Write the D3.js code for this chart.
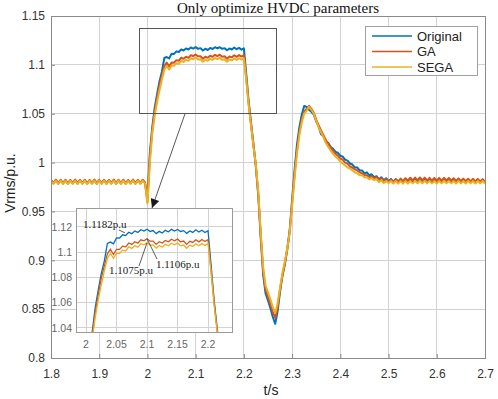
<!DOCTYPE html>
<html>
<head>
<meta charset="utf-8">
<script src="https://cdn.jsdelivr.net/npm/d3@7"></script>
<style>
  body { margin: 0; background: #fff; }
  svg { display: block; }
</style>
</head>
<body>
<div id="container"></div>
<script>
// ---- data ----
const xTicks = [1.8, 1.9, 2, 2.1, 2.2, 2.3, 2.4, 2.5, 2.6, 2.7];
const xTickLabels = ['1.8', '1.9', '2', '2.1', '2.2', '2.3', '2.4', '2.5', '2.6', '2.7'];
const yTicks = [0.8, 0.85, 0.9, 0.95, 1, 1.05, 1.1, 1.15];
const yTickLabels = ['0.8', '0.85', '0.9', '0.95', '1', '1.05', '1.1', '1.15'];
const insetXTicks = [2, 2.05, 2.1, 2.15, 2.2];
const insetXLabels = ['2', '2.05', '2.1', '2.15', '2.2'];
const insetYTicks = [1.04, 1.06, 1.08, 1.1, 1.12];
const insetYLabels = ['1.04', '1.06', '1.08', '1.1', '1.12'];
const seriesNames = ['Original', 'GA', 'SEGA'];
const tStart = 1.8, tStep = 0.005;

// Vrms (p.u.), sampled every 5 ms from 1.8 s to 2.7 s
const original = [
  0.9818,0.9787,0.9821,0.9785,0.9819,0.9786,0.9820,0.9784,0.9818,0.9787,
  0.9821,0.9785,0.9819,0.9786,0.9820,0.9784,0.9818,0.9787,0.9821,0.9785,
  0.9819,0.9786,0.9820,0.9784,0.9818,0.9787,0.9821,0.9785,0.9819,0.9786,
  0.9820,0.9784,0.9818,0.9787,0.9821,0.9785,0.9819,0.9786,0.9820,0.9792,
  0.965,1.010,1.036,1.056,1.070,1.083,1.093,1.107,1.108,1.1066,
  1.1113,1.1112,1.1138,1.1132,1.1158,1.1147,1.1168,1.1157,1.1178,1.1167,
  1.1182,1.1164,1.1171,1.1147,1.1165,1.1152,1.1173,1.1162,1.1181,1.1168,
  1.1180,1.1164,1.1171,1.1149,1.1168,1.1157,1.1178,1.1160,1.1174,1.1156,
  1.1170,1.090,1.062,1.040,1.018,0.995,0.965,0.922,0.885,0.866,
  0.859,0.851,0.842,0.835,0.848,0.868,0.884,0.896,0.912,0.931,
  0.962,0.992,1.018,1.036,1.049,1.058,1.057,1.054,1.052,1.049,
  1.042,1.037,1.029,1.027,1.021,1.020,1.016,1.014,1.011,1.010,
  1.007,1.006,1.003,1.002,0.999,0.998,0.995,0.995,0.992,0.992,
  0.989,0.990,0.987,0.988,0.985,0.986,0.983,0.985,0.982,0.984,0.981,
  0.9832,0.9803,0.9830,0.9801,0.9828,0.9800,0.9829,0.9801,0.9827,0.9799,
  0.9828,0.9800,0.9826,0.9798,0.9827,0.9799,0.9826,0.9798,0.9827,0.9799,
  0.9826,0.9798,0.9827,0.9799,0.9826,0.9798,0.9825,0.9797,0.9826,0.9798,
  0.9825,0.9797,0.9826,0.9798,0.9825,0.9797,0.9826,0.9798,0.9825,0.9797
];
const ga = [
  0.9822,0.9791,0.9825,0.9789,0.9823,0.9790,0.9824,0.9788,0.9822,0.9791,
  0.9825,0.9789,0.9823,0.9790,0.9824,0.9788,0.9822,0.9791,0.9825,0.9789,
  0.9823,0.9790,0.9824,0.9788,0.9822,0.9791,0.9825,0.9789,0.9823,0.9790,
  0.9824,0.9788,0.9822,0.9791,0.9825,0.9789,0.9823,0.9790,0.9824,0.9796,
  0.960,1.005,1.033,1.052,1.066,1.079,1.089,1.0987,1.1023,1.0982,
  1.1023,1.1022,1.1048,1.1042,1.1073,1.1062,1.1083,1.1072,1.1098,1.1090,
  1.1106,1.1087,1.1088,1.1062,1.1083,1.1072,1.1093,1.1082,1.1103,1.1090,
  1.1104,1.1082,1.1088,1.1062,1.1086,1.1077,1.1098,1.1082,1.1100,1.1085,
  1.1100,1.086,1.060,1.038,1.017,0.996,0.967,0.925,0.889,0.870,
  0.863,0.855,0.847,0.841,0.852,0.870,0.885,0.897,0.911,0.929,
  0.958,0.987,1.012,1.031,1.044,1.052,1.055,1.058,1.055,1.051,
  1.044,1.038,1.033,1.028,1.023,1.019,1.015,1.012,1.009,1.007,
  1.004,1.003,1.000,0.999,0.996,0.995,0.993,0.992,0.990,0.989,
  0.987,0.987,0.985,0.986,0.984,0.985,0.982,0.984,0.981,0.983,0.980,
  0.9826,0.9800,0.9830,0.9805,0.9836,0.9810,0.9840,0.9814,0.9845,0.9818,
  0.9846,0.9820,0.9847,0.9820,0.9846,0.9818,0.9844,0.9816,0.9842,0.9815,
  0.9843,0.9816,0.9844,0.9817,0.9842,0.9815,0.9840,0.9813,0.9838,0.9811,
  0.9836,0.9810,0.9835,0.9808,0.9833,0.9806,0.9832,0.9805,0.9830,0.9804
];
const sega = [
  0.9814,0.9783,0.9817,0.9781,0.9815,0.9782,0.9816,0.9780,0.9814,0.9783,
  0.9817,0.9781,0.9815,0.9782,0.9816,0.9780,0.9814,0.9783,0.9817,0.9781,
  0.9815,0.9782,0.9816,0.9780,0.9814,0.9783,0.9817,0.9781,0.9815,0.9782,
  0.9816,0.9780,0.9814,0.9783,0.9817,0.9781,0.9815,0.9782,0.9816,0.9788,
  0.958,1.000,1.030,1.048,1.062,1.074,1.085,1.0950,1.0990,1.0952,
  1.0992,1.0990,1.1016,1.1010,1.1042,1.1030,1.1052,1.1040,1.1067,1.1058,
  1.1075,1.1056,1.1057,1.1032,1.1052,1.1041,1.1062,1.1051,1.1071,1.1059,
  1.1072,1.1051,1.1057,1.1031,1.1055,1.1046,1.1066,1.1051,1.1068,1.1054,
  1.1068,1.084,1.058,1.037,1.016,0.997,0.969,0.928,0.893,0.874,
  0.867,0.860,0.852,0.846,0.856,0.872,0.887,0.899,0.912,0.929,
  0.956,0.984,1.009,1.028,1.041,1.050,1.053,1.057,1.054,1.050,
  1.043,1.036,1.031,1.026,1.020,1.016,1.012,1.009,1.006,1.004,
  1.001,0.999,0.997,0.995,0.994,0.992,0.990,0.989,0.987,0.987,
  0.985,0.985,0.983,0.984,0.982,0.983,0.980,0.982,0.979,0.981,0.979,
  0.9812,0.9786,0.9811,0.9785,0.9810,0.9784,0.9812,0.9786,0.9813,0.9787,
  0.9814,0.9788,0.9815,0.9789,0.9814,0.9788,0.9813,0.9787,0.9812,0.9786,
  0.9813,0.9787,0.9814,0.9788,0.9813,0.9787,0.9812,0.9786,0.9813,0.9787,
  0.9812,0.9786,0.9813,0.9787,0.9812,0.9786,0.9813,0.9787,0.9812,0.9786
];
// annotated peaks in the zoomed view
const peakLabels = ['1.1182p.u', '1.1075p.u', '1.1106p.u'];
const peakValues = [1.1153, 1.1075, 1.1106];
const peakTimes = [2.064, 2.1, 2.1];

const time = original.map((d, i) => +(tStart + i * tStep).toFixed(3));
const series = [original, ga, sega];
const colors = ['#0072BD', '#D95319', '#EDB120'];

// ---- layout ----
let width = 498, height = 399,
  plot = { left: 51, right: 485, top: 16, bottom: 358 },
  inset = { left: 76, right: 232, top: 208, bottom: 332 };

let svg = d3.select('#container')
  .append('svg')
  .attr('width', width)
  .attr('height', height)
  .style('font-family', 'Arial, "Liberation Sans", sans-serif')

let defs = svg.append('defs')
defs.append('clipPath').attr('id', 'clip-main')
  .append('rect')
  .attr('x', plot.left).attr('y', plot.top)
  .attr('width', plot.right - plot.left).attr('height', plot.bottom - plot.top)
defs.append('clipPath').attr('id', 'clip-inset')
  .append('rect')
  .attr('x', inset.left).attr('y', inset.top)
  .attr('width', inset.right - inset.left).attr('height', inset.bottom - inset.top)
defs.append('marker')
  .attr('id', 'arrow')
  .attr('viewBox', '0 0 10 10')
  .attr('refX', 10).attr('refY', 5)
  .attr('markerWidth', 10).attr('markerHeight', 9)
  .attr('markerUnits', 'userSpaceOnUse')
  .attr('orient', 'auto')
  .append('path')
  .attr('d', 'M0,0 L10,5 L0,10 Z')
  .attr('fill', '#1a1a1a')

// 比例尺
let scale_x = d3.scaleLinear().domain([1.8, 2.7]).range([plot.left, plot.right])
let scale_y = d3.scaleLinear().domain([0.8, 1.15]).range([plot.bottom, plot.top])

// grid
let grid = svg.append('g').attr('stroke', '#d2d2d2').attr('shape-rendering', 'crispEdges')
grid.selectAll('.gx').data(xTicks).enter().append('line')
  .attr('x1', d => scale_x(d)).attr('x2', d => scale_x(d))
  .attr('y1', plot.top).attr('y2', plot.bottom)
grid.selectAll('.gy').data(yTicks).enter().append('line')
  .attr('y1', d => scale_y(d)).attr('y2', d => scale_y(d))
  .attr('x1', plot.left).attr('x2', plot.right)

// 坐标轴
let x_axis = d3.axisBottom(scale_x).tickValues(xTicks)
  .tickFormat((d, i) => xTickLabels[i]).tickSize(-4).tickPadding(11)
let y_axis = d3.axisLeft(scale_y).tickValues(yTicks)
  .tickFormat((d, i) => yTickLabels[i]).tickSize(-4).tickPadding(6)

let gx = svg.append('g')
  .attr('transform', 'translate(0,' + plot.bottom + ')')
  .call(x_axis)
let gy = svg.append('g')
  .attr('transform', 'translate(' + plot.left + ',0)')
  .call(y_axis)
;[gx, gy].forEach(g => {
  g.select('.domain').remove()
  g.selectAll('line').attr('stroke', '#8a8a8a')
  g.selectAll('text').attr('fill', '#333').style('font-size', '12px')
})

// series
let line = d3.line()
  .x((d, i) => scale_x(time[i]))
  .y(d => scale_y(d))

svg.append('g').attr('clip-path', 'url(#clip-main)')
  .selectAll('path').data(series).enter().append('path')
  .attr('d', line)
  .attr('fill', 'none')
  .attr('stroke', (d, i) => colors[i])
  .attr('stroke-width', 2)
  .attr('stroke-linejoin', 'round')

// box
svg.append('rect')
  .attr('x', plot.left).attr('y', plot.top)
  .attr('width', plot.right - plot.left).attr('height', plot.bottom - plot.top)
  .attr('fill', 'none').attr('stroke', '#8a8a8a')
  .attr('shape-rendering', 'crispEdges')

// zoom rectangle and arrow
svg.append('rect')
  .attr('x', 139).attr('y', 28)
  .attr('width', 137).attr('height', scale_y(1.05) - 28)
  .attr('fill', 'none').attr('stroke', '#555')
  .attr('shape-rendering', 'crispEdges')
svg.append('line')
  .attr('x1', 185).attr('y1', scale_y(1.05))
  .attr('x2', 152).attr('y2', inset.top)
  .attr('stroke', '#444').attr('stroke-width', 0.9)
  .attr('marker-end', 'url(#arrow)')

// ---- inset ----
let ix = d3.scaleLinear().domain([1.9836, 2.2393]).range([inset.left, inset.right])
let iy = d3.scaleLinear().domain([1.0368, 1.1350]).range([inset.bottom, inset.top])

let ig = svg.append('g')
ig.append('rect')
  .attr('x', inset.left).attr('y', inset.top)
  .attr('width', inset.right - inset.left).attr('height', inset.bottom - inset.top)
  .attr('fill', '#fff')

let igrid = ig.append('g').attr('stroke', '#d2d2d2').attr('shape-rendering', 'crispEdges')
igrid.selectAll('.ix').data(insetXTicks).enter().append('line')
  .attr('x1', d => ix(d)).attr('x2', d => ix(d))
  .attr('y1', inset.top).attr('y2', inset.bottom)
igrid.selectAll('.iy').data(insetYTicks).enter().append('line')
  .attr('y1', d => iy(d)).attr('y2', d => iy(d))
  .attr('x1', inset.left).attr('x2', inset.right)

let iline = d3.line()
  .x((d, i) => ix(time[i]))
  .y(d => iy(d))

ig.append('g').attr('clip-path', 'url(#clip-inset)')
  .selectAll('path').data(series).enter().append('path')
  .attr('d', iline)
  .attr('fill', 'none')
  .attr('stroke', (d, i) => colors[i])
  .attr('stroke-width', 1.3)

ig.append('rect')
  .attr('x', inset.left).attr('y', inset.top)
  .attr('width', inset.right - inset.left).attr('height', inset.bottom - inset.top)
  .attr('fill', 'none').attr('stroke', '#9a9a9a')
  .attr('shape-rendering', 'crispEdges')

ig.selectAll('.ixl').data(insetXTicks).enter().append('text')
  .attr('x', d => ix(d)).attr('y', inset.bottom + 16)
  .attr('text-anchor', 'middle')
  .attr('fill', '#666').style('font-size', '10.5px')
  .text((d, i) => insetXLabels[i])
ig.selectAll('.iyl').data(insetYTicks).enter().append('text')
  .attr('x', inset.left - 4).attr('y', d => iy(d)).attr('dy', '0.35em')
  .attr('text-anchor', 'end')
  .attr('fill', '#666').style('font-size', '10.5px')
  .text((d, i) => insetYLabels[i])

// peak annotations
let notePos = [[83, 228], [109, 274], [156, 268]]
let leadFrom = [[119, 230], [139, 266], [157, 259]]
peakLabels.forEach((label, k) => {
  ig.append('line')
    .attr('x1', leadFrom[k][0]).attr('y1', leadFrom[k][1])
    .attr('x2', ix(peakTimes[k])).attr('y2', iy(peakValues[k]))
    .attr('stroke', '#333').attr('stroke-width', 0.8)
  ig.append('text')
    .attr('x', notePos[k][0]).attr('y', notePos[k][1])
    .style('font-family', '"Liberation Serif", "Times New Roman", serif')
    .style('font-size', '11px')
    .attr('fill', '#222')
    .text(label)
})

// ---- titles ----
svg.append('text')
  .attr('x', 278).attr('y', 13)
  .attr('text-anchor', 'middle')
  .style('font-family', '"Liberation Serif", "Times New Roman", serif')
  .style('font-size', '15px')
  .attr('fill', '#111')
  .text('Only optimize HVDC parameters')
svg.append('text')
  .attr('x', 271).attr('y', 395)
  .attr('text-anchor', 'middle')
  .style('font-size', '14px').attr('fill', '#222')
  .text('t/s')
svg.append('text')
  .attr('transform', 'translate(15,183) rotate(-90)')
  .attr('text-anchor', 'middle')
  .style('font-size', '14px').attr('fill', '#222')
  .text('Vrms/p.u.')

// ---- legend ----
let legend = svg.append('g')
legend.append('rect')
  .attr('x', 365).attr('y', 26).attr('width', 112).attr('height', 49)
  .attr('fill', '#fff').attr('stroke', '#a0a0a0')
  .attr('shape-rendering', 'crispEdges')
let item = legend.selectAll('.item').data(seriesNames).enter().append('g')
  .attr('transform', (d, i) => 'translate(0,' + (36 + i * 15.5) + ')')
item.append('line')
  .attr('x1', 372).attr('x2', 412)
  .attr('stroke', (d, i) => colors[i]).attr('stroke-width', 1.5)
item.append('text')
  .attr('x', 417).attr('dy', '0.35em')
  .style('font-size', '13px').attr('fill', '#222')
  .text(d => d)
</script>
</body>
</html>
